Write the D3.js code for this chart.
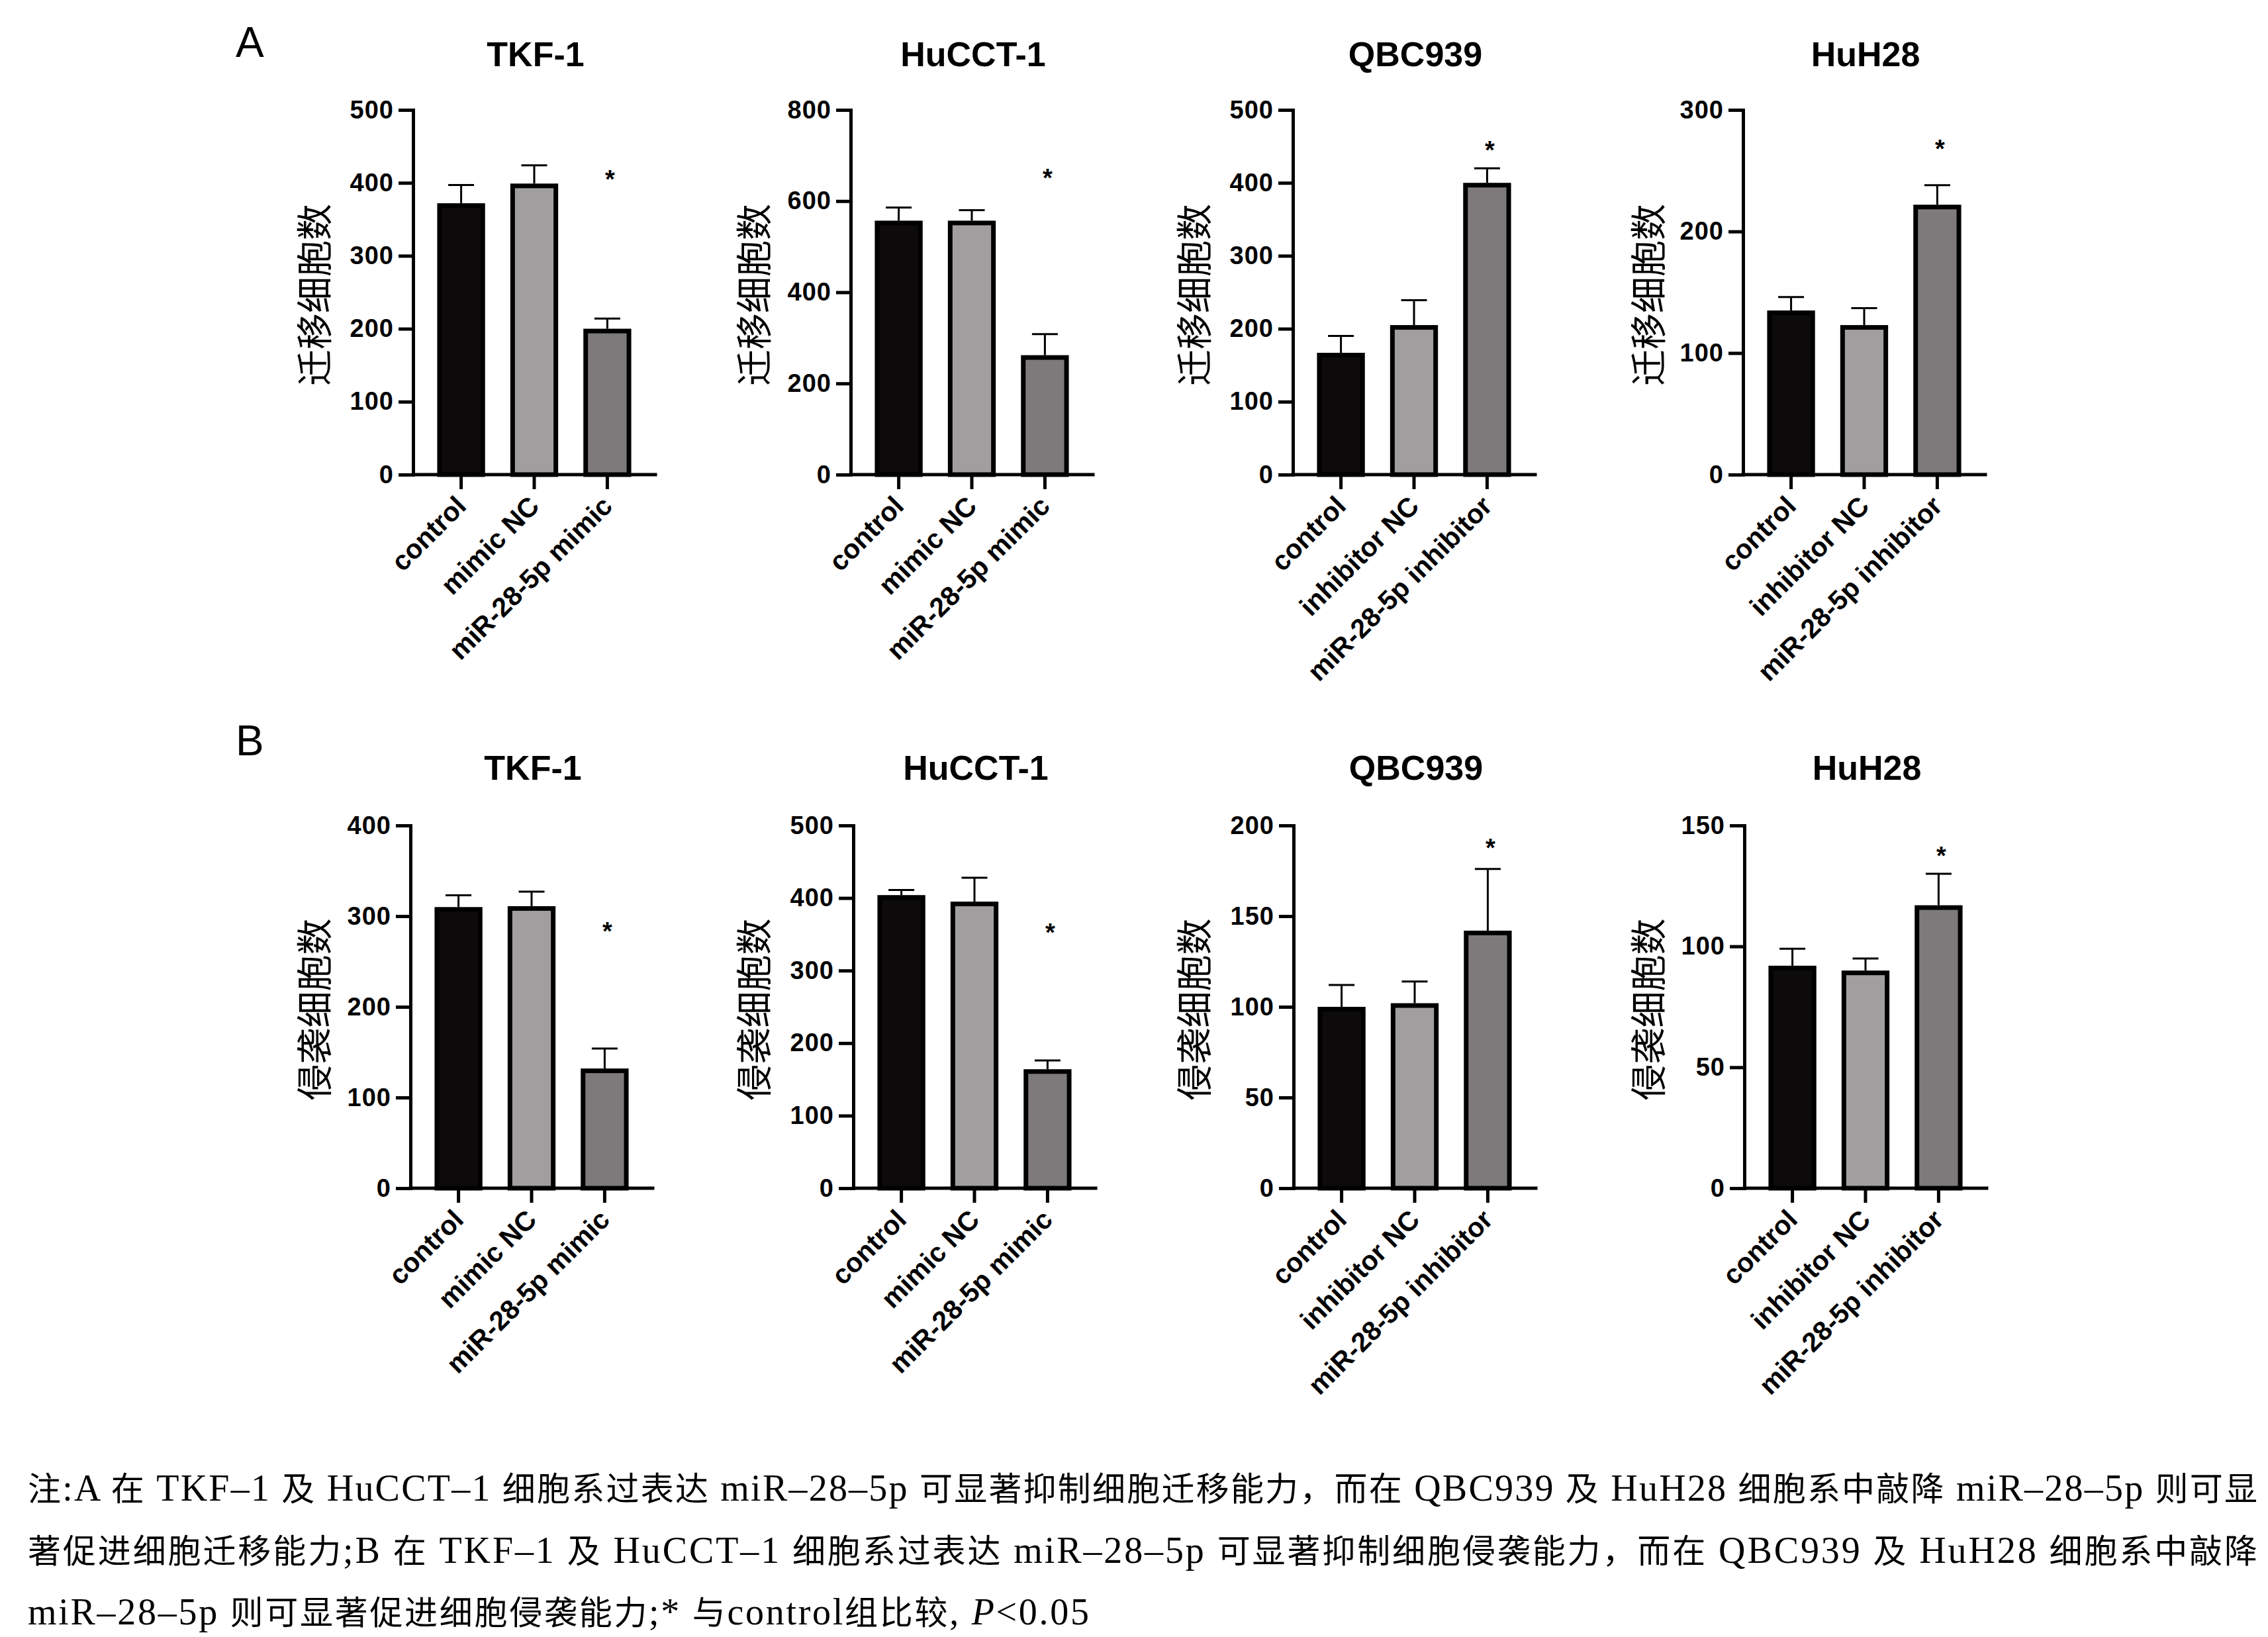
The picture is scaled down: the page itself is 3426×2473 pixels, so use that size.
<!DOCTYPE html>
<html>
<head>
<meta charset="utf-8">
<script src="https://cdn.jsdelivr.net/npm/d3@7"></script>
<style>
  body { margin: 0; background: #fff; }
</style>
</head>
<body>
<svg id="fig" width="3426" height="2473"></svg>
<script>
// data
var cellLines = ["TKF-1", "HuCCT-1", "QBC939", "HuH28"];
var mimicGroups = ["control", "mimic NC", "miR-28-5p mimic"];
var inhibitorGroups = ["control", "inhibitor NC", "miR-28-5p inhibitor"];

// A: migration
var migrationMean = [[372, 399, 200], [557, 557, 262], [167, 205, 400], [135, 123, 222]];
var migrationSem  = [[25, 25, 14], [29, 23, 46], [23, 34, 20], [11, 14, 16]];
var migrationMax  = [500, 800, 500, 300];
var migrationStep = [100, 200, 100, 100];
var migrationStar = [413, 663, 453, 273];   // level of the * mark (data units)

// B: invasion
var invasionMean = [[310, 311, 132], [404, 395, 164], [100, 102, 142], [92, 90, 117]];
var invasionSem  = [[13, 16, 22], [7, 33, 12], [12, 12, 34], [7, 5, 13]];
var invasionMax  = [400, 500, 200, 150];
var invasionStep = [100, 100, 50, 50];
var invasionStar = [290, 360, 191, 140];

var migrationLabel = "迁移细胞数";
var invasionLabel = "侵袭细胞数";
var barColors = ["#0c0a0b", "#a19ea0", "#7e7a7b"];

var captionLines = [
  [["注:A 在 TKF–1 及 HuCCT–1 细胞系过表达 miR–28–5p 可显著抑制细胞迁移能力，而在 QBC939 及 HuH28 细胞系中敲降 miR–28–5p 则可显", false]],
  [["著促进细胞迁移能力;B 在 TKF–1 及 HuCCT–1 细胞系过表达 miR–28–5p 可显著抑制细胞侵袭能力，而在 QBC939 及 HuH28 细胞系中敲降", false]],
  [["miR–28–5p 则可显著促进细胞侵袭能力;* 与control组比较, ", false], ["P", true], ["<0.05", false]]
];

// layout
var rows = [
  { letter: "A", letterY: 86, titleY: 100, top: 166, bottom: 717,
    bandX: [624, 1285, 1953, 2633],
    mean: migrationMean, sem: migrationSem, max: migrationMax, step: migrationStep,
    star: migrationStar, label: migrationLabel },
  { letter: "B", letterY: 1141, titleY: 1178, top: 1247, bottom: 1795,
    bandX: [620, 1289, 1954, 2635],
    mean: invasionMean, sem: invasionSem, max: invasionMax, step: invasionStep,
    star: invasionStar, label: invasionLabel }
];
var labelX = [471, 1135, 1800, 2486];
var bandW = 366, barStroke = 7, capW = 39;
var sansBold = "'Liberation Sans', Arial, sans-serif";

var svg = d3.select("#fig");

rows.forEach(function(row){
  svg.append("text")
    .attr("x", 356).attr("y", row.letterY)
    .attr("font-family", sansBold).attr("font-size", 64)
    .text(row.letter);

  cellLines.forEach(function(name, p){
    var groups = p < 2 ? mimicGroups : inhibitorGroups;
    var bx = row.bandX[p];
    var x = d3.scaleBand().domain(groups).range([bx, bx + bandW])
      .paddingInner(0.345).paddingOuter(0.33);
    var y = d3.scaleLinear().domain([0, row.max[p]]).range([row.bottom, row.top]);
    var vals = groups.map(function(g, i){
      return { g: g, v: row.mean[p][i], e: row.sem[p][i], c: barColors[i] };
    });
    var g = svg.append("g");

    // title
    g.append("text")
      .attr("x", bx + 185).attr("y", row.titleY)
      .attr("text-anchor", "middle")
      .attr("font-family", sansBold).attr("font-weight", "bold").attr("font-size", 52)
      .text(name);

    // error bars (upper only)
    var eb = g.selectAll("g.err").data(vals).enter().append("g").attr("class", "err")
      .attr("stroke", "#000").attr("stroke-width", 3);
    eb.append("line")
      .attr("x1", function(d){ return x(d.g) + x.bandwidth() / 2; })
      .attr("x2", function(d){ return x(d.g) + x.bandwidth() / 2; })
      .attr("y1", function(d){ return y(d.v); })
      .attr("y2", function(d){ return y(d.v + d.e); });
    eb.append("line")
      .attr("x1", function(d){ return x(d.g) + x.bandwidth() / 2 - capW / 2; })
      .attr("x2", function(d){ return x(d.g) + x.bandwidth() / 2 + capW / 2; })
      .attr("y1", function(d){ return y(d.v + d.e); })
      .attr("y2", function(d){ return y(d.v + d.e); });

    // bars
    g.selectAll("rect.bar").data(vals).enter().append("rect").attr("class", "bar")
      .attr("x", function(d){ return x(d.g) + barStroke / 2; })
      .attr("width", x.bandwidth() - barStroke)
      .attr("y", function(d){ return y(d.v) + barStroke / 2; })
      .attr("height", function(d){ return y(0) - y(d.v) - barStroke / 2; })
      .attr("fill", function(d){ return d.c; })
      .attr("stroke", "#000").attr("stroke-width", barStroke);

    // significance mark on the third group
    g.append("text")
      .attr("x", x(groups[2]) + x.bandwidth() / 2 + 4)
      .attr("y", y(row.star[p]) + 22)
      .attr("text-anchor", "middle")
      .attr("font-family", sansBold).attr("font-weight", "bold").attr("font-size", 38)
      .text("*");

    // y axis
    var yAxis = g.append("g")
      .attr("transform", "translate(" + bx + ",0)")
      .call(d3.axisLeft(y)
        .tickValues(d3.range(0, row.max[p] + 1, row.step[p]))
        .tickSize(22).tickSizeOuter(0).tickPadding(7));
    yAxis.select(".domain").attr("stroke-width", 5).attr("stroke-linecap", "square");
    yAxis.selectAll(".tick line").attr("stroke-width", 5);
    yAxis.selectAll(".tick text")
      .attr("font-family", sansBold).attr("font-weight", "bold").attr("font-size", 38)
      .attr("letter-spacing", 1).attr("fill", "#000");

    // x axis
    var xAxis = g.append("g")
      .attr("transform", "translate(0," + row.bottom + ")")
      .call(d3.axisBottom(x).tickSize(22).tickSizeOuter(0));
    xAxis.select(".domain")
      .attr("d", "M" + bx + ",0H" + (bx + bandW))
      .attr("stroke-width", 5).attr("stroke-linecap", "square");
    xAxis.selectAll(".tick line").attr("stroke-width", 5);
    xAxis.selectAll(".tick text")
      .attr("x", null).attr("y", null).attr("dy", null)
      .attr("transform", "translate(10,50) rotate(-45)")
      .attr("text-anchor", "end")
      .attr("font-family", sansBold).attr("font-weight", "bold").attr("font-size", 41)
      .attr("fill", "#000");

    // y label
    var cy = (row.top + row.bottom) / 2 + 4;
    g.append("text")
      .attr("transform", "translate(" + labelX[p] + "," + cy + ") rotate(-90)")
      .attr("text-anchor", "middle").attr("dominant-baseline", "central")
      .attr("font-family", "'Noto Sans CJK SC', sans-serif").attr("font-size", 55)
      .text(row.label);
  });
});

// caption: CJK runs at 50px, Latin runs a bit larger (taller serif in the original)
var capBase = [2267, 2361, 2454];
var capLen = [3368, 3368, 1603];
var cjkRun = /([\u3000-\u9fff\uff00-\uffef]+)/;
captionLines.forEach(function(parts, i){
  var t = svg.append("text")
    .attr("x", 42).attr("y", capBase[i])
    .attr("font-family", "'Liberation Serif', 'Noto Sans CJK SC', serif")
    .attr("font-size", 50)
    .attr("textLength", capLen[i]).attr("lengthAdjust", "spacing");
  parts.forEach(function(pt){
    pt[0].split(cjkRun).forEach(function(s){
      if (!s) return;
      var isCjk = cjkRun.test(s);
      t.append("tspan")
        .attr("font-size", isCjk ? 50 : 56)
        .attr("font-style", pt[1] ? "italic" : null)
        .text(s);
    });
  });
});
</script>
</body>
</html>
